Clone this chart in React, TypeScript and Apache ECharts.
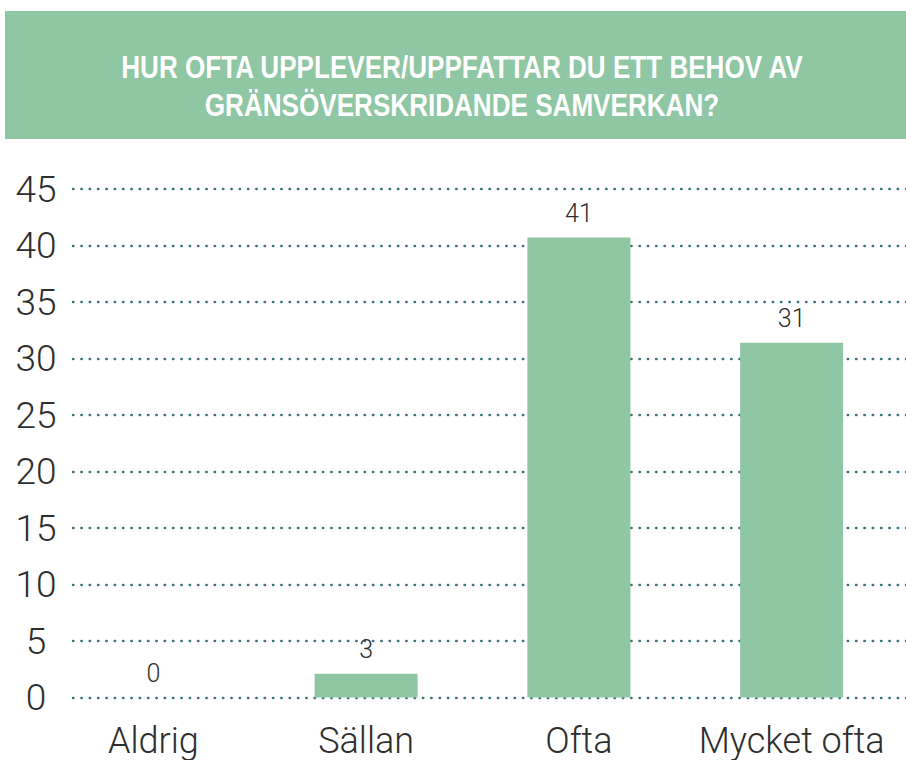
import React, { useEffect, useRef } from "react";
import * as echarts from "echarts";

const categories = ["Aldrig", "Sällan", "Ofta", "Mycket ofta"];
const barValues = [0, 2.1, 40.7, 31.4];
const valueLabels = ["0", "3", "41", "31"];
const yMin = 0;
const yMax = 45;
const yStep = 5;
const titleLines = ["HUR OFTA UPPLEVER/UPPFATTAR DU ETT BEHOV AV", "GRÄNSÖVERSKRIDANDE SAMVERKAN?"];

const GREEN = "#8fc6a3";
const GRID_COLOR = "#3d7479";
const TEXT = "#2e2e2e";
const FONT = "Roboto, 'Liberation Sans', sans-serif";
const TITLE_FONT = "bold 32px 'Liberation Sans', Arial, sans-serif";

export default function App() {
  const ref = useRef<HTMLDivElement>(null);
  useEffect(() => {
    if (!ref.current) return;
    const chart = echarts.init(ref.current, null, { renderer: "svg" });
    chart.setOption({
      animation: false,
      backgroundColor: "#ffffff",
      graphic: [
        {
          type: "rect",
          z: -1,
          shape: { x: 5, y: 11, width: 901, height: 128 },
          style: { fill: GREEN },
        },
        ...titleLines.map((t, i) => ({
          type: "text",
          x: 462,
          y: 67.5 + i * 38,
          scaleX: 0.815,
          style: {
            text: t,
            font: TITLE_FONT,
            fill: "#ffffff",
            textAlign: "center",
            textVerticalAlign: "middle",
          },
        })),
      ],
      grid: [
        { left: 73, right: 0, top: 189, bottom: 62.5 },
        { left: 47, right: 8, top: 189, bottom: 62.5 },
      ],
      xAxis: [
        { type: "value", gridIndex: 0, show: false },
        {
          type: "category",
          gridIndex: 1,
          data: categories,
          axisLine: { show: false },
          axisTick: { show: false },
          axisLabel: {
            interval: 0,
            color: TEXT,
            fontFamily: FONT,
            fontWeight: 300,
            fontSize: 36,
            margin: 25,
          },
        },
      ],
      yAxis: [
        {
          type: "value",
          gridIndex: 0,
          min: yMin,
          max: yMax,
          interval: yStep,
          axisLine: { show: false },
          axisTick: { show: false },
          axisLabel: {
            color: TEXT,
            fontFamily: FONT,
            fontWeight: 300,
            fontSize: 37,
            align: "center",
            margin: 37,
          },
          splitLine: {
            show: true,
            lineStyle: { color: GRID_COLOR, width: 2.4, type: [0.5, 7.83], cap: "round" },
          },
        },
        {
          type: "value",
          gridIndex: 1,
          min: yMin,
          max: yMax,
          interval: yStep,
          show: false,
          splitLine: { show: false },
        },
      ],
      series: [
        {
          type: "bar",
          xAxisIndex: 1,
          yAxisIndex: 1,
          data: barValues,
          barWidth: 103,
          itemStyle: { color: GREEN },
          label: {
            show: true,
            position: "top",
            distance: 12,
            color: TEXT,
            fontFamily: FONT,
            fontWeight: 300,
            fontSize: 25,
            formatter: (p: any) => valueLabels[p.dataIndex],
          },
        },
      ],
    });
    return () => chart.dispose();
  }, []);
  return (
    <div
      ref={ref}
      style={{ position: "absolute", left: 0, top: 0, width: 906, height: 760 }}
    />
  );
}
